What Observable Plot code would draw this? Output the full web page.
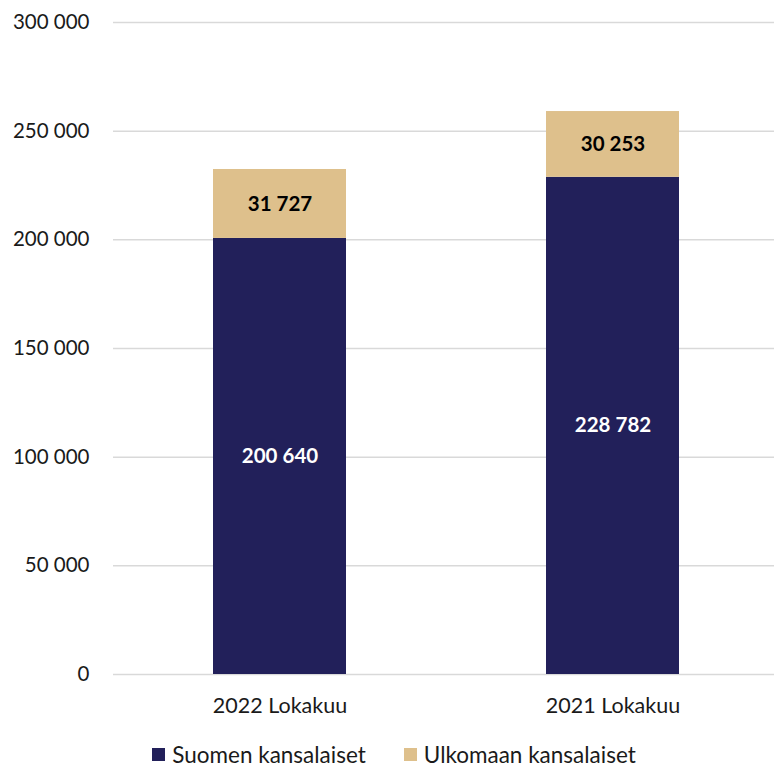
<!DOCTYPE html>
<html>
<head>
<meta charset="utf-8">
<script src="https://cdn.jsdelivr.net/npm/d3@7"></script>
<script src="https://cdn.jsdelivr.net/npm/@observablehq/plot@0.6"></script>
<style>
  body { margin: 0; background: #fff; font-family: Lato, "Open Sans", sans-serif; }
  #legend { display: flex; justify-content: center; gap: 38px; font-size: 22.5px; color: #1a1a1a; margin-left: 14px; margin-top: 3px; }
  #legend .item { display: flex; align-items: center; gap: 7px; }
  #legend .sw { width: 13px; height: 13px; display: inline-block; }
</style>
</head>
<body>
<div id="chart"></div>
<div id="legend"></div>
<script>
const categories = ["2022 Lokakuu", "2021 Lokakuu"];
const seriesNames = ["Suomen kansalaiset", "Ulkomaan kansalaiset"];
const suomen = [200640, 228782];
const ulkomaan = [31727, 30253];
const colors = ["#22205a", "#dec08c"];
const labelColors = ["#ffffff", "#000000"];
const yTicks = [0, 50000, 100000, 150000, 200000, 250000, 300000];

const locale = d3.formatLocale({decimal: ",", thousands: " ", grouping: [3], currency: ["", "€"]});
const fmt = locale.format(",d");

const data = [];
categories.forEach((c, i) => {
  data.push({cat: c, series: seriesNames[0], value: suomen[i]});
  data.push({cat: c, series: seriesNames[1], value: ulkomaan[i]});
});

const labelMarks = seriesNames.map((s, k) =>
  Plot.text(data, Plot.stackY({
    x: "cat", y: "value", z: "series",
    text: d => d.series === s ? fmt(d.value) : "",
    fill: labelColors[k], fontWeight: "bold", fontSize: 20.5
  }))
);

const chart = Plot.plot({
  width: 774,
  height: 738,
  marginLeft: 113,
  marginRight: 0,
  marginTop: 22,
  marginBottom: 64,
  style: {fontFamily: "Lato, 'Open Sans', sans-serif", fontSize: "20.5px", color: "#1a1a1a", background: "#fff"},
  x: {domain: categories, range: [113, 779], paddingInner: 0.6, paddingOuter: 0.3, label: null, axis: null},
  y: {domain: [0, 300000], ticks: yTicks, tickFormat: fmt, label: null, tickSize: 0, tickPadding: 24},
  color: {domain: seriesNames, range: colors},
  marks: [
    Plot.ruleY(yTicks, {stroke: "#d9d9d9", strokeWidth: 1.5}),
    Plot.barY(data, {x: "cat", y: "value", fill: "series", z: "series"}),
    ...labelMarks,
    Plot.axisX({tickSize: 0, tickPadding: 23, fontSize: 21.5, label: null})
  ]
});
document.getElementById("chart").appendChild(chart);

const legend = document.getElementById("legend");
seriesNames.forEach((s, i) => {
  const item = document.createElement("span");
  item.className = "item";
  const sw = document.createElement("span");
  sw.className = "sw";
  sw.style.background = colors[i];
  const t = document.createElement("span");
  t.textContent = s;
  item.appendChild(sw);
  item.appendChild(t);
  legend.appendChild(item);
});
</script>
</body>
</html>
